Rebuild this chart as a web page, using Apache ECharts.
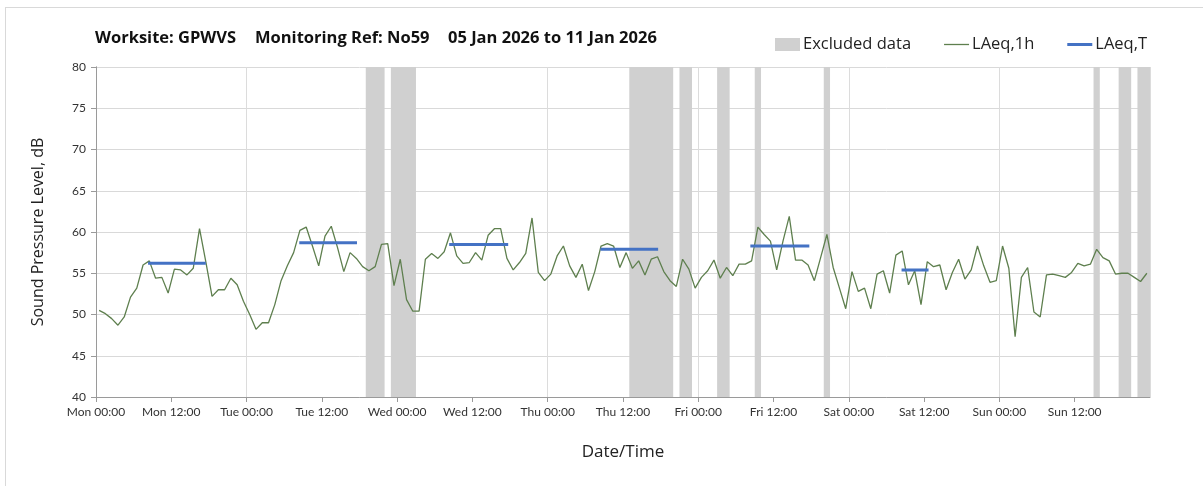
<!DOCTYPE html>
<html>
<head>
<meta charset="utf-8">
<script src="https://cdn.jsdelivr.net/npm/echarts@6/dist/echarts.min.js"></script>
<style>
html,body{margin:0;padding:0;background:#fff;}
#frame{position:absolute;left:5px;top:7px;width:1300px;height:600px;border-left:1px solid #d9d9d9;border-top:1px solid #d9d9d9;}
#chart{position:absolute;left:0;top:0;width:1203px;height:486px;}
</style>
</head>
<body>
<div id="frame"></div>
<div id="chart"></div>
<script>
// Hourly LAeq,1h values, Mon 00:00 .. Sun 23:00 (plotted at mid-hour)
const laeq1h = [
 50.5,50.1,49.5,48.7,49.7,52.1,53.2,56.0,56.5,54.4,54.5,52.6,55.5,55.4,54.8,55.6,60.4,56.4,52.2,53.0,53.0,54.4,53.6,51.6,
 50.0,48.2,49.0,49.0,51.2,54.1,55.9,57.5,60.2,60.6,58.3,55.9,59.5,60.7,58.1,55.2,57.5,56.8,55.8,55.3,55.8,58.5,58.6,53.5,
 56.7,51.8,50.4,50.4,56.7,57.4,56.8,57.6,59.9,57.1,56.2,56.3,57.5,56.6,59.6,60.4,60.4,56.8,55.4,56.3,57.4,61.7,55.1,54.1,
 54.9,57.1,58.3,55.9,54.5,56.1,52.9,55.2,58.3,58.6,58.3,55.7,57.5,55.6,56.5,54.8,56.7,57.0,55.2,54.1,53.4,56.7,55.5,53.2,
 54.5,55.3,56.6,54.4,55.7,54.7,56.1,56.1,56.5,60.6,59.7,58.9,55.4,58.9,61.9,56.6,56.6,56.0,54.1,56.9,59.7,55.7,53.2,50.7,
 55.2,52.8,53.2,50.7,54.9,55.3,52.6,57.2,57.7,53.6,55.3,51.2,56.4,55.8,56.0,53.0,55.1,56.7,54.3,55.4,58.3,55.9,53.9,54.1,
 58.3,55.6,47.3,54.5,55.7,50.3,49.7,54.8,54.9,54.7,54.5,55.1,56.2,55.9,56.1,57.9,56.9,56.5,54.9,55.0,55.0,54.5,54.0,55.0
];
// LAeq,T periods (hours from Mon 00:00)
const periodStart = [8.3, 32.4, 56.3, 80.4, 104.3, 128.4];
const periodEnd   = [17.5, 41.6, 65.7, 89.6, 113.7, 132.7];
const periodValue = [56.2, 58.7, 58.5, 57.9, 58.3, 55.4];
// Excluded data periods (hours from Mon 00:00)
const exclStart = [43, 47, 85, 93, 99, 105, 116, 159, 163, 166];
const exclEnd   = [46, 51, 92, 95, 101, 106, 117, 160, 165, 168];
const dayNames = ['Mon','Tue','Wed','Thu','Fri','Sat','Sun'];
const yTicks = {min:40, max:80, step:5};
const titleParts = ['Worksite: GPWVS', 'Monitoring Ref: No59', '05 Jan 2026 to 11 Jan 2026'];

const FONT = 'Lato, "Open Sans", sans-serif';
const FONT2 = '"Open Sans", Lato, sans-serif';
const lineData = laeq1h.map((v,i)=>[i+0.5, v]);
const series = [
  {
    name:'Excluded data', type:'bar', data:[], itemStyle:{color:'#d0d0d0'}, z:1,
    markArea:{silent:true, itemStyle:{color:'#d0d0d0'},
      data: exclStart.map((s,i)=>[{xAxis:s},{xAxis:exclEnd[i]}])}
  },
  {
    name:'LAeq,1h', type:'line', data:lineData, showSymbol:false, symbol:'none', z:3,
    lineStyle:{color:'#5e7f4e', width:1.3}, itemStyle:{color:'#5e7f4e'}
  }
];
periodStart.forEach((s,i)=>{
  series.push({name:'LAeq,T', type:'line', symbol:'none', showSymbol:false, z:4,
    data:[[s,periodValue[i]],[periodEnd[i],periodValue[i]]],
    lineStyle:{color:'#4472c4', width:3}, itemStyle:{color:'#4472c4'}});
});

const titleStyle = {fontFamily:FONT2, fontSize:16.5, fontWeight:'bold', color:'#111'};
const chart = echarts.init(document.getElementById('chart'), null, {renderer:'canvas'});
chart.setOption({
  backgroundColor:'transparent',
  animation:false,
  textStyle:{fontFamily:FONT},
  title:[
    {text:titleParts[0], left:95, top:30, padding:0, textStyle:titleStyle},
    {text:titleParts[1], left:255, top:30, padding:0, textStyle:titleStyle},
    {text:titleParts[2], left:448, top:30, padding:0, textStyle:titleStyle}
  ],
  legend:{
    left:775, top:36, padding:0, itemWidth:25, itemHeight:13, itemGap:33,
    textStyle:{fontFamily:FONT2, fontSize:16.5, color:'#222', padding:[0,0,0,-2]},
    data:[
      {name:'Excluded data', icon:'rect'},
      {name:'LAeq,1h', icon:'path://M0,0H25V1.3H0Z'},
      {name:'LAeq,T', icon:'path://M0,0H25V3H0Z'}
    ]
  },
  grid:{left:96, right:53, top:67, bottom:89, containLabel:false},
  xAxis:[
    {
      type:'value', min:0, max:168, interval:12,
      name:'Date/Time', nameLocation:'middle', nameGap:47,
      nameTextStyle:{fontFamily:FONT2, fontSize:17, color:'#222'},
      axisLine:{show:true, lineStyle:{color:'#9a9a9a'}},
      axisTick:{show:true, length:5, lineStyle:{color:'#9a9a9a'}},
      axisLabel:{fontFamily:FONT, fontSize:12, color:'#333', margin:9, showMaxLabel:false,
        formatter:(v)=>{ const d=Math.floor(v/24); if(d>=7) return ''; return dayNames[d]+' '+(v%24===0?'00:00':'12:00'); }},
      splitLine:{show:false}
    },
    {
      type:'value', min:0, max:168, interval:24, position:'bottom',
      axisLine:{show:false}, axisTick:{show:false}, axisLabel:{show:false},
      splitLine:{show:true, lineStyle:{color:'#dcdcdc', width:1}}
    }
  ],
  yAxis:[
    {
      type:'value', min:yTicks.min, max:yTicks.max, interval:yTicks.step,
      name:'Sound Pressure Level, dB', nameLocation:'middle', nameGap:50,
      nameTextStyle:{fontFamily:FONT2, fontSize:16, color:'#222'},
      axisLine:{show:true, lineStyle:{color:'#9a9a9a'}},
      axisTick:{show:true, length:5, lineStyle:{color:'#9a9a9a'}},
      axisLabel:{fontFamily:FONT, fontSize:12, color:'#333', margin:10},
      splitLine:{show:true, lineStyle:{color:'#d9d9d9'}}
    },
    {
      type:'value', min:yTicks.min, max:yTicks.max, interval:yTicks.step, position:'right',
      axisLine:{show:true, lineStyle:{color:'#9a9a9a'}}, axisTick:{show:false},
      axisLabel:{show:false}, splitLine:{show:false}
    }
  ],
  series:series
});
</script>
</body>
</html>
